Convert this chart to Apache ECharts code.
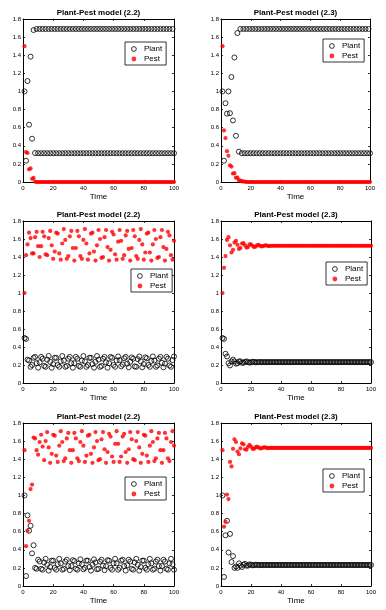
<!DOCTYPE html>
<html>
<head>
<meta charset="utf-8">
<script src="https://cdn.jsdelivr.net/npm/echarts@6/dist/echarts.min.js"></script>
<style>
html, body { margin: 0; padding: 0; background: #fff; }
#chart { width: 386px; height: 610px; }
</style>
</head>
<body>
<div id="chart"></div>
<script>
// values for time steps 1..100
// row 1 left, model (2.2)
const plantA = [1, .235, 1.115, .633, 1.384, .478, 1.678, .32,
  1.69,.318,1.69,.318,1.69,.318,1.69,.318,1.69,.318,1.69,.318,1.69,.318,1.69,.318,1.69,.318,1.69,.318,
  1.69,.318,1.69,.318,1.69,.318,1.69,.318,1.69,.318,1.69,.318,1.69,.318,1.69,.318,1.69,.318,1.69,.318,
  1.69,.318,1.69,.318,1.69,.318,1.69,.318,1.69,.318,1.69,.318,1.69,.318,1.69,.318,1.69,.318,1.69,.318,
  1.69,.318,1.69,.318,1.69,.318,1.69,.318,1.69,.318,1.69,.318,1.69,.318,1.69,.318,1.69,.318,1.69,.318,
  1.69,.318,1.69,.318,1.69,.318,1.69,.318,1.69,.318,1.69,.318];
const pestA = [1.5, .33, .32, .14, .15, .035, .045, .005,
  0,0,0,0,0, 0,0,0,0,0, 0,0,0,0,0, 0,0,0,0,0, 0,0,0,0,0, 0,0,0,0,0,
  0,0,0,0,0, 0,0,0,0,0, 0,0,0,0,0, 0,0,0,0,0, 0,0,0,0,0, 0,0,0,0,0,
  0,0,0,0,0, 0,0,0,0,0, 0,0,0,0,0, 0,0,0,0,0, 0,0,0,0,0, 0,0,0,0,0, 0,0];

// row 1 right, model (2.3)
const plantB = [1, .235, .87, .755, 1, .76, 1.16, .68, 1.375, .51, 1.645, .335, 1.69, .318,
  1.69,.318,1.69,.318,1.69,.318,1.69,.318,1.69,.318,1.69,.318,1.69,.318,1.69,.318,1.69,.318,1.69,.318,
  1.69,.318,1.69,.318,1.69,.318,1.69,.318,1.69,.318,1.69,.318,1.69,.318,1.69,.318,1.69,.318,1.69,.318,
  1.69,.318,1.69,.318,1.69,.318,1.69,.318,1.69,.318,1.69,.318,1.69,.318,1.69,.318,1.69,.318,1.69,.318,
  1.69,.318,1.69,.318,1.69,.318,1.69,.318,1.69,.318,1.69,.318,1.69,.318,1.69,.318,1.69,.318,1.69,.318,
  1.69,.318,1.69,.318,1.69,.318];
const pestB = [1.5, .57, .485, .34, .29, .185, .17, .094, .098, .048, .048, .02, .016, .007, .006, .003, .002,
  0,0,0,0,0, 0,0,0,0,0, 0,0,0,0,0, 0,0,0,0,0, 0,0,0,0,0, 0,0,0,0,0,
  0,0,0,0,0, 0,0,0,0,0, 0,0,0,0,0, 0,0,0,0,0, 0,0,0,0,0, 0,0,0,0,0,
  0,0,0,0,0, 0,0,0,0,0, 0,0,0,0,0, 0,0,0,0,0, 0,0,0];

// row 2 left, model (2.2)
const plantC = [.5, .49, .26,
  .25, .18, .20, .28, .29, .22, .17, .23, .29, .27, .19, .18, .26, .30, .235, .17, .21, .28, .28, .20, .18, .24, .30, .25, .18, .19, .27, .29, .22,
  .17, .22, .29, .27, .19, .18, .25, .30, .24, .18, .20, .28, .28, .21, .17, .235, .30, .26, .18, .19, .27, .29, .23, .17, .22, .29, .28, .20, .18, .25,
  .295, .255, .185, .205, .275, .29, .215, .175, .235, .285, .27, .185, .18, .265, .295, .24, .175, .21, .285, .275, .2, .18, .245, .295, .25, .18, .195, .27, .29, .225,
  .175, .215, .29, .27, .195, .18, .255, .295];
const pestC = [1, 1.42, 1.54,
  1.67, 1.61, 1.44, 1.44, 1.62, 1.68, 1.52, 1.40, 1.52, 1.68, 1.63, 1.43, 1.42, 1.61, 1.69, 1.53, 1.38,
  1.46, 1.67, 1.66, 1.44, 1.37, 1.55, 1.71, 1.59, 1.38, 1.41, 1.63, 1.69, 1.50,
  1.36, 1.50, 1.69, 1.63, 1.41, 1.38, 1.59, 1.71, 1.55, 1.37, 1.44, 1.66, 1.67, 1.46, 1.36, 1.53, 1.70, 1.60, 1.39, 1.40, 1.62, 1.70, 1.51, 1.36, 1.48, 1.68, 1.65, 1.43, 1.37, 1.57,
  1.70, 1.58, 1.38, 1.42, 1.64, 1.69, 1.49, 1.36, 1.50, 1.70, 1.63, 1.41, 1.38, 1.59, 1.71, 1.54, 1.37, 1.45, 1.66, 1.67, 1.45, 1.36, 1.54, 1.70, 1.60, 1.39, 1.40, 1.62, 1.70, 1.51,
  1.36, 1.49, 1.68, 1.64, 1.42, 1.37, 1.58];

// row 2 right, model (2.3)
const plantD = [.50, .49, .325, .295, .22, .195, .24, .26, .24, .215, .22, .24, .24, .225, .225, .235, .24, .232, .226, .23, .236, .235, .23, .23, .233,
  .232,.232,.232,.232,.232, .232,.232,.232,.232,.232, .232,.232,.232,.232,.232, .232,.232,.232,.232,.232, .232,.232,.232,.232,.232,
  .232,.232,.232,.232,.232, .232,.232,.232,.232,.232, .232,.232,.232,.232,.232, .232,.232,.232,.232,.232, .232,.232,.232,.232,.232,
  .232,.232,.232,.232,.232, .232,.232,.232,.232,.232, .232,.232,.232,.232,.232, .232,.232,.232,.232,.232, .232,.232,.232,.232,.232];
const pestD = [1, 1.28, 1.41, 1.59, 1.62, 1.53, 1.45, 1.48, 1.56, 1.58, 1.535, 1.49, 1.50, 1.55, 1.555, 1.53, 1.505, 1.51, 1.54, 1.54,
  1.525, 1.51, 1.515, 1.53, 1.535, 1.525, 1.517, 1.52, 1.528, 1.53, 1.525, 1.52,
  1.525,1.525,1.525,1.525,1.525, 1.525,1.525,1.525,1.525,1.525, 1.525,1.525,1.525,1.525,1.525, 1.525,1.525,1.525,1.525,1.525,
  1.525,1.525,1.525,1.525,1.525, 1.525,1.525,1.525,1.525,1.525, 1.525,1.525,1.525,1.525,1.525, 1.525,1.525,1.525,1.525,1.525,
  1.525,1.525,1.525,1.525,1.525, 1.525,1.525,1.525,1.525,1.525, 1.525,1.525,1.525,1.525,1.525, 1.525,1.525,1.525,1.525,1.525,
  1.525,1.525,1.525,1.525,1.525, 1.525,1.525,1.525];

// row 3 left, model (2.2)
const plantE = [1, .11, .78, .61, .665, .36, .45, .20, .19,
  .29, .27, .19, .18, .26, .30, .235, .17, .21, .28, .28, .20, .18, .24, .30, .25, .18, .19, .27, .29, .22,
  .175, .22, .285, .275, .19, .18, .25, .295, .24, .185, .20, .28, .28, .21, .17, .235, .295, .26, .185, .19, .27, .29, .225, .175, .22, .285, .28, .20, .18, .25,
  .30, .25, .18, .20, .28, .29, .22, .17, .23, .29, .27, .19, .18, .26, .30, .235, .17, .21, .28, .28, .20, .18, .24, .30, .25, .18, .19, .27, .29, .22,
  .17, .22, .29, .27, .19, .18, .25, .30, .24, .18];
const pestE = [1.5, .44, .61, .72, 1.07, 1.12, 1.64, 1.63, 1.50, 1.45, 1.59, 1.67, 1.54,
  1.39, 1.60, 1.70, 1.53, 1.36, 1.46, 1.67, 1.66, 1.44, 1.37, 1.55, 1.71, 1.59, 1.38, 1.41, 1.63, 1.69, 1.50,
  1.36, 1.50, 1.69, 1.63, 1.41, 1.38, 1.59, 1.71, 1.55, 1.37, 1.44, 1.66, 1.67, 1.46, 1.36, 1.53, 1.70, 1.60, 1.39, 1.40, 1.62, 1.70, 1.51, 1.36, 1.48, 1.68, 1.65, 1.43, 1.37, 1.57,
  1.71, 1.57, 1.37, 1.43, 1.65, 1.68, 1.48, 1.36, 1.51, 1.70, 1.62, 1.40, 1.39, 1.60, 1.70, 1.53, 1.36, 1.46, 1.67, 1.66, 1.44, 1.37, 1.55, 1.71, 1.59, 1.38, 1.41, 1.63, 1.69, 1.50,
  1.36, 1.50, 1.69, 1.63, 1.41, 1.38, 1.59, 1.71, 1.55];

// row 3 right, model (2.3)
const plantF = [1, .10, .56, .72, .37, .575, .265, .33, .20, .215, .20, .25, .225, .21, .235, .245, .225, .225, .238, .236, .228, .23, .235, .234, .23,
  .232,.232,.232,.232,.232, .232,.232,.232,.232,.232, .232,.232,.232,.232,.232, .232,.232,.232,.232,.232, .232,.232,.232,.232,.232,
  .232,.232,.232,.232,.232, .232,.232,.232,.232,.232, .232,.232,.232,.232,.232, .232,.232,.232,.232,.232, .232,.232,.232,.232,.232,
  .232,.232,.232,.232,.232, .232,.232,.232,.232,.232, .232,.232,.232,.232,.232, .232,.232,.232,.232,.232, .232,.232,.232,.232,.232];
const pestF = [1.5, .655, .71, 1.01, .96, 1.37, 1.32, 1.515, 1.62, 1.59, 1.485, 1.455, 1.52, 1.575, 1.565, 1.51, 1.505, 1.537, 1.56, 1.54,
  1.515, 1.515, 1.53, 1.54, 1.53, 1.52, 1.52, 1.527, 1.532, 1.528, 1.522,
  1.525,1.525,1.525,1.525,1.525, 1.525,1.525,1.525,1.525,1.525, 1.525,1.525,1.525,1.525,1.525, 1.525,1.525,1.525,1.525,1.525,
  1.525,1.525,1.525,1.525,1.525, 1.525,1.525,1.525,1.525,1.525, 1.525,1.525,1.525,1.525,1.525, 1.525,1.525,1.525,1.525,1.525,
  1.525,1.525,1.525,1.525,1.525, 1.525,1.525,1.525,1.525,1.525, 1.525,1.525,1.525,1.525,1.525, 1.525,1.525,1.525,1.525,1.525,
  1.525,1.525,1.525,1.525,1.525, 1.525,1.525,1.525,1.525];

const titles = ['Plant-Pest model (2.2)', 'Plant-Pest model (2.3)',
  'Plant-Pest model (2.2)', 'Plant-Pest model (2.3)',
  'Plant-Pest model (2.2)', 'Plant-Pest model (2.3)'];
const names = ['Plant', 'Pest'];
const xTicks = [0, 100, 20];
const yTicks = [0, 1.8, 0.2];

const plants = [plantA, plantB, plantC, plantD, plantE, plantF];
const pests = [pestA, pestB, pestC, pestD, pestE, pestF];

// plot boxes and legend corners, in pixels
const boxes = [
  { left: 23, top: 19, width: 151, height: 163, lg: [125, 42] },
  { left: 221, top: 19, width: 149, height: 163, lg: [323, 39] },
  { left: 23, top: 221, width: 151, height: 162, lg: [131, 269] },
  { left: 221, top: 221, width: 150, height: 162, lg: [326, 262] },
  { left: 23, top: 423, width: 151, height: 163, lg: [125, 477] },
  { left: 221, top: 423, width: 150, height: 163, lg: [323, 469] }
];

const font = 'Liberation Sans, Arial, sans-serif';
const line = { show: true, onZero: false, lineStyle: { color: '#000', width: 1 } };
const tick = { show: true, inside: true, length: 2, lineStyle: { color: '#000', width: 0.8 } };

let grid = [], xAxis = [], yAxis = [], legend = [], series = [];

boxes.forEach(function (b, i) {
  grid.push({ left: b.left, top: b.top, width: b.width, height: b.height, outerBoundsMode: 'none' });

  xAxis.push({
    gridIndex: i, type: 'value', position: 'bottom',
    min: xTicks[0], max: xTicks[1], interval: xTicks[2],
    name: 'Time', nameLocation: 'middle', nameGap: 11,
    nameTextStyle: { fontSize: 8, color: '#000', fontFamily: font },
    axisLine: line, axisTick: tick,
    axisLabel: { fontSize: 6, color: '#000', margin: 3, fontFamily: font },
    splitLine: { show: false }
  });
  xAxis.push({
    gridIndex: i, type: 'value', position: 'top',
    min: xTicks[0], max: xTicks[1], interval: xTicks[2],
    name: titles[i], nameLocation: 'middle', nameGap: 2,
    nameTextStyle: { fontSize: 8, fontWeight: 'bold', color: '#000', fontFamily: font },
    axisLine: line, axisTick: tick,
    axisLabel: { show: false }, splitLine: { show: false }
  });
  yAxis.push({
    gridIndex: i, type: 'value', position: 'left',
    min: yTicks[0], max: yTicks[1], interval: yTicks[2],
    axisLine: line, axisTick: tick,
    axisLabel: { fontSize: 6, color: '#000', margin: 2, fontFamily: font },
    splitLine: { show: false }
  });
  yAxis.push({
    gridIndex: i, type: 'value', position: 'right',
    min: yTicks[0], max: yTicks[1], interval: yTicks[2],
    axisLine: line, axisTick: tick,
    axisLabel: { show: false }, splitLine: { show: false }
  });

  legend.push({
    orient: 'vertical', left: b.lg[0], top: b.lg[1],
    padding: [3, 4, 2, 6], itemGap: 2, itemWidth: 10, itemHeight: 4.8,
    borderColor: '#000', borderWidth: 0.8, backgroundColor: '#fff', borderRadius: 0,
    selectedMode: false,
    textStyle: { fontSize: 8, color: '#000', fontFamily: font },
    data: [
      { name: names[0], icon: 'circle', itemStyle: { color: 'rgba(0,0,0,0)', borderColor: '#000', borderWidth: 1 } },
      { name: names[1], icon: 'circle', itemStyle: { color: '#f00', borderWidth: 0 } }
    ]
  });

  series.push({
    type: 'scatter', name: names[0], xAxisIndex: 2 * i, yAxisIndex: 2 * i,
    data: plants[i].map(function (v, k) { return [k + 1, v]; }),
    symbol: 'circle', symbolSize: 5, clip: false, silent: true,
    itemStyle: { color: 'rgba(0,0,0,0)', borderColor: '#000', borderWidth: 1 },
    emphasis: { disabled: true }
  });
  series.push({
    type: 'scatter', name: names[1], xAxisIndex: 2 * i, yAxisIndex: 2 * i,
    data: pests[i].map(function (v, k) { return [k + 1, v]; }),
    symbol: 'circle', symbolSize: 4.2, clip: false, silent: true,
    itemStyle: { color: '#f00' },
    emphasis: { disabled: true }
  });
});

let myChart = echarts.init(document.getElementById('chart'));
myChart.setOption({
  animation: false,
  backgroundColor: '#fff',
  grid: grid,
  xAxis: xAxis,
  yAxis: yAxis,
  legend: legend,
  series: series
});
</script>
</body>
</html>
